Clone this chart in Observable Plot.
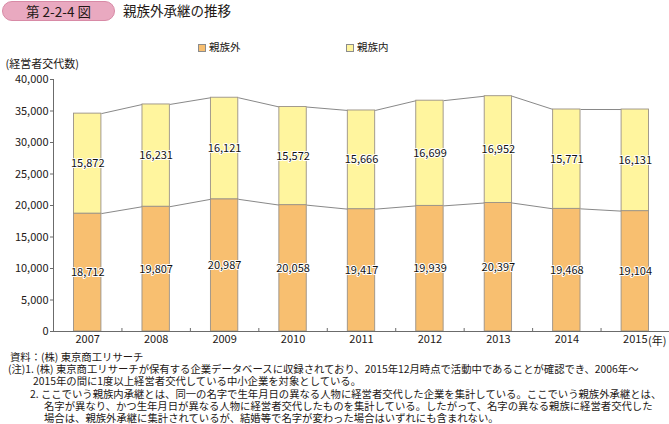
<!DOCTYPE html>
<html>
<head>
<meta charset="utf-8">
<script src="https://cdn.jsdelivr.net/npm/d3@7"></script>
<script src="https://cdn.jsdelivr.net/npm/@observablehq/plot@0.6"></script>
<style>
  html, body { margin: 0; padding: 0; background: #fff; }
  body { width: 669px; height: 424px; position: relative; overflow: hidden;
         font-family: "Noto Sans CJK JP", "Noto Sans", sans-serif; color: #231815; }
  .abs { position: absolute; white-space: nowrap; }
  #badge { left: 2px; top: 1px; width: 113px; height: 20px; border-radius: 10px;
           background: #E9A9C0; border: 1px solid #D88AA6; box-sizing: border-box;
           font-size: 13.5px; line-height: 18px; text-align: center; color: #231815; }
  #title { left: 123px; top: 1px; font-size: 13.5px; line-height: 19px; }
  .leg { font-size: 10.5px; line-height: 12px; top: 41px; }
  .sw { display: inline-block; width: 8px; height: 8px; border: 1px solid #8c8c8c;
        vertical-align: -0.5px; margin-right: 3px; box-sizing: border-box; }
  #chart { left: 0; top: 50px; }
  #notes { left: 0; top: 351px; width: 669px; font-size: 10.35px; line-height: 12.2px; }
  #notes p { margin: 0; white-space: nowrap; }
</style>
</head>
<body>
<script>
// ---- data ----
const years = [2007, 2008, 2009, 2010, 2011, 2012, 2013, 2014, 2015];
const outsideFamily = [18712, 19807, 20987, 20058, 19417, 19939, 20397, 19468, 19104]; // 親族外
const withinFamily  = [15872, 16231, 16121, 15572, 15666, 16699, 16952, 15771, 16131]; // 親族内
const seriesNames = ["親族外", "親族内"];
const yTicks = [0, 5000, 10000, 15000, 20000, 25000, 30000, 35000, 40000];
const yLabel = "(経営者交代数)";
const xUnit = "(年)";

const colors = {"親族外": "#F8BF70", "親族内": "#FFF59E"};

// header
const badge = document.createElement("div");
badge.className = "abs"; badge.id = "badge"; badge.textContent = "第 2-2-4 図";
document.body.appendChild(badge);
const title = document.createElement("div");
title.className = "abs"; title.id = "title"; title.textContent = "親族外承継の推移";
document.body.appendChild(title);

// legend
[[seriesNames[0], 198], [seriesNames[1], 346]].forEach(([name, left]) => {
  const d = document.createElement("div");
  d.className = "abs leg"; d.style.left = left + "px";
  d.innerHTML = `<span class="sw" style="background:${colors[name]}"></span>${name}`;
  document.body.appendChild(d);
});

// table
const rows = years.map((year, i) => ({
  year, out: outsideFamily[i], inn: withinFamily[i], total: outsideFamily[i] + withinFamily[i]
}));
const hw = 0.2; // half bar width, in band units
const links = rows.slice(0, -1).map((r, i) => ({a: r, b: rows[i + 1]}));
const fmt = d3.format(",");
const font = "'Noto Sans CJK JP', 'Noto Sans', sans-serif";

const chart = Plot.plot({
  width: 669,
  height: 300,
  marginLeft: 53,
  marginRight: 0,
  marginTop: 29,
  marginBottom: 19,
  style: {fontFamily: font, fontSize: "11px", color: "#231815", background: "transparent"},
  x: {domain: [years[0] - 0.5, years[years.length - 1] + 0.5]},
  y: {domain: [0, 40000]},
  marks: [
    // connecting lines
    Plot.link(links, {x1: d => d.a.year + hw, x2: d => d.b.year - hw, y1: d => d.a.out, y2: d => d.b.out, stroke: "#7a7a7a", strokeWidth: 0.9}),
    Plot.link(links, {x1: d => d.a.year + hw, x2: d => d.b.year - hw, y1: d => d.a.total, y2: d => d.b.total, stroke: "#7a7a7a", strokeWidth: 0.9}),
    // bars
    Plot.rect(rows, {x1: d => d.year - hw, x2: d => d.year + hw, y1: 0, y2: "out", fill: colors[seriesNames[0]], stroke: "#9a9186", strokeWidth: 0.9}),
    Plot.rect(rows, {x1: d => d.year - hw, x2: d => d.year + hw, y1: "out", y2: "total", fill: colors[seriesNames[1]], stroke: "#9a9186", strokeWidth: 0.9}),
    // value labels
    Plot.text(rows, {x: "year", y: d => d.out / 2, text: d => fmt(d.out), fill: "#111", stroke: "white", strokeWidth: 2, fontSize: 11}),
    Plot.text(rows, {x: "year", y: d => d.out + d.inn / 2, text: d => fmt(d.inn), fill: "#111", stroke: "white", strokeWidth: 2, fontSize: 11}),
    // axes
    Plot.ruleY([0], {stroke: "#6b6b6b"}),
    Plot.ruleX([years[0] - 0.5], {stroke: "#6b6b6b"}),
    Plot.axisY({ticks: yTicks, tickSize: 3, text: null, label: null, stroke: "#6b6b6b"}),
    Plot.axisY({ticks: yTicks, tickFormat: fmt, tickSize: 0, tickPadding: 5, label: null, fill: "#231815", fontSize: 11}),
    Plot.axisX({ticks: years, tickFormat: d => String(d), tickSize: 0, tickPadding: 4, label: null, fill: "#231815", fontSize: 11}),
    Plot.axisX({ticks: years.map(y => y + 0.5), tickSize: -3, text: null, label: null, stroke: "#6b6b6b"}),
    Plot.text([xUnit], {frameAnchor: "bottom-right", textAnchor: "end", lineAnchor: "middle", dx: -3, dy: 10, fill: "#231815", fontSize: 11}),
    Plot.text([yLabel], {frameAnchor: "top-left", textAnchor: "start", lineAnchor: "middle", dx: -48, dy: -15, fill: "#231815", fontSize: 11})
  ]
});
chart.classList.add("abs");
chart.id = "chart";
document.body.appendChild(chart);

// notes
const notes = [
  [10, "資料：(株) 東京商工リサーチ"],
  [8, "(注)1. (株) 東京商工リサーチが保有する企業データベースに収録されており、2015年12月時点で活動中であることが確認でき、2006年～"],
  [33, "2015年の間に1度以上経営者交代している中小企業を対象としている。"],
  [30, "2. ここでいう親族内承継とは、同一の名字で生年月日の異なる人物に経営者交代した企業を集計している。ここでいう親族外承継とは、"],
  [44, "名字が異なり、かつ生年月日が異なる人物に経営者交代したものを集計している。したがって、名字の異なる親族に経営者交代した"],
  [44, "場合は、親族外承継に集計されているが、結婚等で名字が変わった場合はいずれにも含まれない。"]
];
const notesDiv = document.createElement("div");
notesDiv.className = "abs"; notesDiv.id = "notes";
notes.forEach(([x, t]) => {
  const p = document.createElement("p");
  p.style.paddingLeft = x + "px";
  p.textContent = t;
  notesDiv.appendChild(p);
});
document.body.appendChild(notesDiv);
</script>
</body>
</html>
